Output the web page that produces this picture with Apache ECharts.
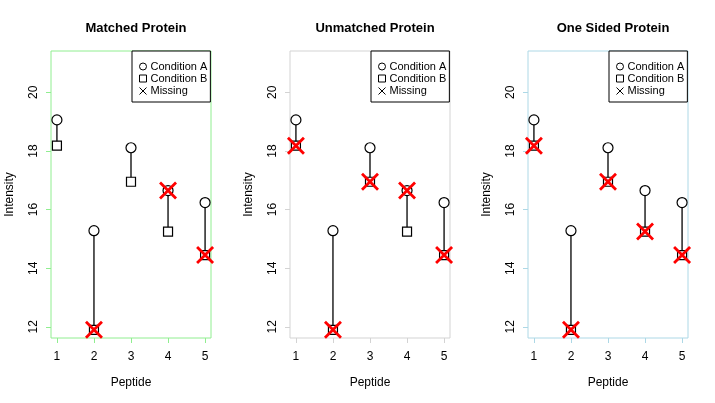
<!DOCTYPE html>
<html><head><meta charset="utf-8">
<script src="https://cdn.jsdelivr.net/npm/echarts@6/dist/echarts.min.js"></script>
<style>html,body{margin:0;padding:0;background:#fff}#c{width:715px;height:403px}</style>
</head><body><div id="c"></div>
<script>
const peptides = [1, 2, 3, 4, 5];
const condA = [19.06, 15.28, 18.11, 16.65, 16.24];
const condB = [18.18, 11.90, 16.95, 15.25, 14.45];
const panelTitles = ['Matched Protein', 'Unmatched Protein', 'One Sided Protein'];
const missingMatched = ['', 'B', '', 'A', 'B'];
const missingUnmatched = ['B', 'B', 'B', 'A', 'B'];
const missingOneSided = ['B', 'B', 'B', 'B', 'B'];
const yTicks = [12, 14, 16, 18, 20];
const xTicks = [1, 2, 3, 4, 5];

const missingSets = [missingMatched, missingUnmatched, missingOneSided];
const frameColors = ['#90EE90', '#D3D3D3', '#ADD8E6'];
const gridLefts = [51, 290, 528];
const FONT = 'Liberation Sans, Arial, sans-serif';
const XPATH = 'path://M0 0L10 10M10 0L0 10';

const grids = [], xAxes = [], yAxes = [], series = [], titles = [], legends = [];
for (let p = 0; p < 3; p++) {
  const col = frameColors[p];
  grids.push({left: gridLefts[p], top: 51, width: 160, height: 287, show: true,
    borderColor: col, borderWidth: 1, backgroundColor: 'transparent', containLabel: false});
  xAxes.push({type: 'value', gridIndex: p, min: 0.84, max: 5.16,
    name: 'Peptide', nameLocation: 'middle', nameGap: 39,
    nameTextStyle: {fontFamily: FONT, fontSize: 12, color: '#000'},
    axisLine: {show: false}, splitLine: {show: false},
    axisTick: {show: true, length: 5, inside: false, customValues: xTicks, lineStyle: {color: col}},
    axisLabel: {customValues: xTicks, margin: 13, fontFamily: FONT, fontSize: 12, color: '#000'}});
  yAxes.push({type: 'value', gridIndex: p, min: 11.62, max: 21.41,
    name: 'Intensity', nameLocation: 'middle', nameGap: 35, nameRotate: 90,
    nameTextStyle: {fontFamily: FONT, fontSize: 12, color: '#000'},
    axisLine: {show: false}, splitLine: {show: false},
    axisTick: {show: true, length: 5, inside: false, customValues: yTicks, lineStyle: {color: col}},
    axisLabel: {customValues: yTicks, rotate: 90, margin: 11, fontFamily: FONT, fontSize: 12, color: '#000'}});
  titles.push({text: panelTitles[p], left: gridLefts[p] + 80, top: 17, textAlign: 'center',
    textStyle: {fontFamily: FONT, fontSize: 13, fontWeight: 'bold', color: '#000'}});
  const segData = peptides.map((x, i) => [x, condA[i], condB[i]]);
  series.push({type: 'custom', xAxisIndex: p, yAxisIndex: p, silent: true, z: 1,
    data: segData,
    renderItem: function (params, api) {
      const a = api.coord([api.value(0), api.value(1)]);
      const b = api.coord([api.value(0), api.value(2)]);
      return {type: 'line', shape: {x1: a[0], y1: a[1], x2: b[0], y2: b[1]},
        style: {stroke: '#000', lineWidth: 1.3}};
    }});
  series.push({type: 'scatter', name: 'Condition A', xAxisIndex: p, yAxisIndex: p, z: 2,
    symbol: 'circle', symbolSize: 10,
    itemStyle: {color: '#fff', borderColor: '#000', borderWidth: 1.2, opacity: 1},
    data: peptides.map((x, i) => [x, condA[i]])});
  series.push({type: 'scatter', name: 'Condition B', xAxisIndex: p, yAxisIndex: p, z: 3,
    symbol: 'rect', symbolSize: 9,
    itemStyle: {color: '#fff', borderColor: '#000', borderWidth: 1.2, opacity: 1},
    data: peptides.map((x, i) => [x, condB[i]])});
  const miss = [];
  missingSets[p].forEach((m, i) => {
    if (m === 'A') miss.push([peptides[i], condA[i]]);
    if (m === 'B') miss.push([peptides[i], condB[i]]);
  });
  series.push({type: 'scatter', name: 'Missing', xAxisIndex: p, yAxisIndex: p, z: 4,
    symbol: XPATH, symbolSize: 16,
    itemStyle: {color: 'none', borderColor: '#FF0000', borderWidth: 2.8, opacity: 1},
    data: miss});
  legends.push({left: gridLefts[p] + 81, top: 51, orient: 'vertical', align: 'left',
    backgroundColor: '#fff', borderColor: '#000', borderWidth: 1,
    padding: [10, 3, 5, 5], itemGap: 1, itemWidth: 7, itemHeight: 7,
    selectedMode: false,
    textStyle: {fontFamily: FONT, fontSize: 11, color: '#000', padding: [0, 0, 0, -1]},
    data: [
      {name: 'Condition A', icon: 'circle', itemStyle: {color: '#fff', borderColor: '#000', borderWidth: 1}},
      {name: 'Condition B', icon: 'rect', itemStyle: {color: '#fff', borderColor: '#000', borderWidth: 1}},
      {name: 'Missing', icon: XPATH, itemStyle: {color: 'none', borderColor: '#000', borderWidth: 1}}
    ]});
}

const chart = echarts.init(document.getElementById('c'), null, {renderer: 'canvas'});
chart.setOption({
  animation: false,
  backgroundColor: '#fff',
  title: titles,
  legend: legends,
  grid: grids,
  xAxis: xAxes,
  yAxis: yAxes,
  series: series
});
</script>
</body></html>
